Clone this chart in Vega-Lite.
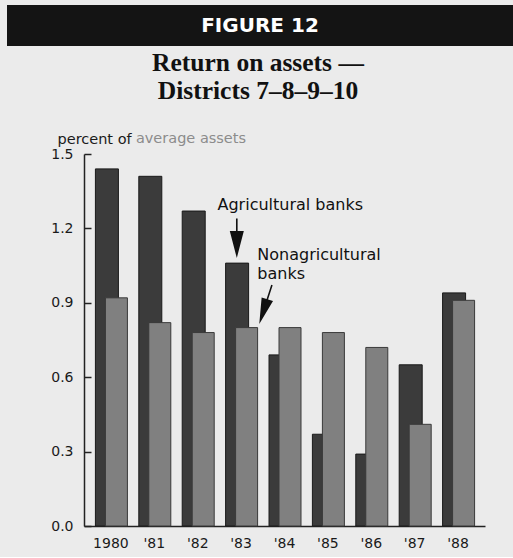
{
  "$schema": "https://vega.github.io/schema/vega-lite/v6.json",
  "background": "#ebebeb",
  "padding": {"left": 7, "top": 5, "right": 0, "bottom": 7},
  "spacing": 4,
  "config": {"view": {"stroke": null}, "font": "DejaVu Sans"},
  "datasets": {
    "roa": [
      {"year": "1980", "type": "Agricultural banks", "value": 1.44},
      {"year": "1980", "type": "Nonagricultural banks", "value": 0.92},
      {"year": "'81", "type": "Agricultural banks", "value": 1.41},
      {"year": "'81", "type": "Nonagricultural banks", "value": 0.82},
      {"year": "'82", "type": "Agricultural banks", "value": 1.27},
      {"year": "'82", "type": "Nonagricultural banks", "value": 0.78},
      {"year": "'83", "type": "Agricultural banks", "value": 1.06},
      {"year": "'83", "type": "Nonagricultural banks", "value": 0.8},
      {"year": "'84", "type": "Agricultural banks", "value": 0.69},
      {"year": "'84", "type": "Nonagricultural banks", "value": 0.8},
      {"year": "'85", "type": "Agricultural banks", "value": 0.37},
      {"year": "'85", "type": "Nonagricultural banks", "value": 0.78},
      {"year": "'86", "type": "Agricultural banks", "value": 0.29},
      {"year": "'86", "type": "Nonagricultural banks", "value": 0.72},
      {"year": "'87", "type": "Agricultural banks", "value": 0.65},
      {"year": "'87", "type": "Nonagricultural banks", "value": 0.41},
      {"year": "'88", "type": "Agricultural banks", "value": 0.94},
      {"year": "'88", "type": "Nonagricultural banks", "value": 0.91}
    ]
  },
  "vconcat": [
    {
      "width": 506,
      "height": 41,
      "view": {"fill": "#141414", "stroke": null},
      "data": {"values": [{"label": "FIGURE 12"}]},
      "mark": {"type": "text", "color": "#ffffff", "font": "DejaVu Sans", "fontWeight": "bold", "fontSize": 20},
      "encoding": {"text": {"field": "label"}}
    },
    {
      "width": 506,
      "height": 372,
      "title": {
        "text": ["Return on assets —", "Districts 7–8–9–10"],
        "font": "Liberation Serif",
        "fontSize": 25.5,
        "fontWeight": "bold",
        "lineHeight": 28,
        "color": "#111111",
        "anchor": "middle",
        "frame": "group",
        "offset": 27,
        "dx": -2
      },
      "data": {"name": "roa"},
      "layer": [
        {
          "transform": [{"filter": "datum.type === 'Agricultural banks'"}],
          "mark": {"type": "bar", "width": 23, "xOffset": -4, "fill": "#3b3b3b", "stroke": "#1a1a1a", "strokeWidth": 1},
          "encoding": {
            "x": {
              "field": "year", "type": "nominal", "sort": null,
              "scale": {"range": [77, 478], "paddingInner": 0, "paddingOuter": 0.12},
              "axis": {"title": null, "labelAngle": 0, "ticks": false, "labelPadding": 10, "domainColor": "#222222", "domainWidth": 1.5, "labelFont": "DejaVu Sans", "labelFontSize": 14, "labelColor": "#1a1a1a"}
            },
            "y": {
              "field": "value", "type": "quantitative",
              "scale": {"domain": [0, 1.5], "nice": false},
              "axis": {
                "offset": -77,
                "values": [0, 0.3, 0.6, 0.9, 1.2, 1.5], "format": ".1f", "grid": false,
                "tickSize": -7, "labelPadding": 18, "tickColor": "#222222", "domainColor": "#222222", "domainWidth": 1.5, "tickWidth": 1.5,
                "labelFont": "DejaVu Sans", "labelFontSize": 14, "labelColor": "#1a1a1a",
                "title": "percent of", "titleX": -27, "titleY": -11, "titleAngle": 0, "titleAlign": "left", "titleBaseline": "alphabetic",
                "titleFont": "DejaVu Sans", "titleFontWeight": "normal", "titleFontSize": 14.5, "titleColor": "#1a1a1a"
              }
            }
          }
        },
        {
          "transform": [{"filter": "datum.type === 'Nonagricultural banks'"}],
          "mark": {"type": "bar", "width": 22, "xOffset": 5.5, "fill": "#808080", "stroke": "#3a3a3a", "strokeWidth": 1},
          "encoding": {
            "x": {"field": "year", "type": "nominal", "sort": null},
            "y": {"field": "value", "type": "quantitative"}
          }
        },
        {
          "data": {"values": [{"note": "average assets"}]},
          "mark": {"type": "text", "align": "left", "baseline": "alphabetic", "dx": 25, "dy": -11, "font": "DejaVu Sans", "fontSize": 14.5, "color": "#8c8c8c"},
          "encoding": {
            "x": {"datum": "1980", "type": "nominal"},
            "y": {"datum": 1.5, "type": "quantitative"},
            "text": {"field": "note"}
          }
        },
        {
          "data": {"values": [{"note": "Agricultural banks"}]},
          "mark": {"type": "text", "align": "left", "baseline": "alphabetic", "dx": -23.6, "font": "DejaVu Sans", "fontSize": 16, "color": "#111111"},
          "encoding": {
            "x": {"datum": "'83", "type": "nominal"},
            "y": {"datum": 1.274, "type": "quantitative"},
            "text": {"field": "note"}
          }
        },
        {
          "data": {"values": [{"note": ["Nonagricultural", "banks"]}]},
          "mark": {"type": "text", "align": "left", "baseline": "alphabetic", "dx": 16.2, "lineHeight": 19, "font": "DejaVu Sans", "fontSize": 16, "color": "#111111"},
          "encoding": {
            "x": {"datum": "'83", "type": "nominal"},
            "y": {"datum": 1.074, "type": "quantitative"},
            "text": {"field": "note"}
          }
        },
        {
          "data": {"values": [{"note": "arrow"}]},
          "mark": {"type": "point", "filled": true, "fill": "#111111", "opacity": 1, "strokeWidth": 0, "size": 729, "xOffset": -4.3,
            "shape": "M-0.06,-1.93L0.06,-1.93L0.06,-1L0.52,-1L0,1L-0.52,-1L-0.06,-1Z"},
          "encoding": {
            "x": {"datum": "'83", "type": "nominal"},
            "y": {"datum": 1.135, "type": "quantitative"}
          }
        },
        {
          "data": {"values": [{"note": "arrow"}]},
          "mark": {"type": "point", "filled": true, "fill": "#111111", "opacity": 1, "strokeWidth": 0, "size": 676, "xOffset": 22.2, "angle": 18,
            "shape": "M-0.06,-2.15L0.06,-2.15L0.06,-1L0.46,-1L0,1L-0.46,-1L-0.06,-1Z"},
          "encoding": {
            "x": {"datum": "'83", "type": "nominal"},
            "y": {"datum": 0.8645, "type": "quantitative"}
          }
        }
      ]
    }
  ]
}
